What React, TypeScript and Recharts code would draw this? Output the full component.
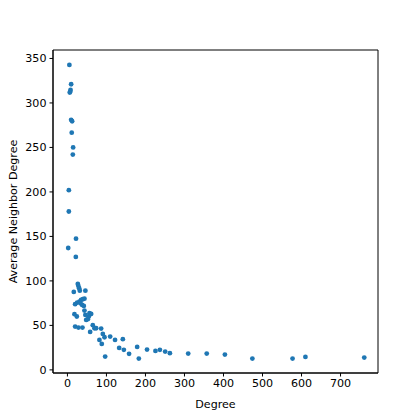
import React from 'react';
import { ScatterChart, Scatter, XAxis, YAxis, ReferenceArea } from 'recharts';

const degree = [
  5, 9.5, 8, 7, 6, 9.5, 12, 11, 14.6, 13.8,
  3.6, 3.6, 22, 2, 21.5,
  26.6, 28, 30, 31.7, 16.3, 46, 39.4, 43.6, 35, 30.8, 24.9, 19.7, 33.4, 37.7, 42,
  18, 24, 43.6, 46, 48, 52.3, 56.5, 60.8, 54.8,
  19.7, 28.2, 38.5, 65, 69.2, 73.6, 58.2, 86.4, 90.7, 95, 82, 88,
  109.5, 122, 142, 132.6, 144.6, 158, 96.7, 178.7, 183, 204, 225.6, 237, 250.5, 262.6,
  309.5, 357, 403.6, 474, 577, 610, 760.8,
];
const avgNeighborDegree = [
  342.7, 321, 314.6, 312.7, 311.6, 281, 279.4, 266.6, 250, 242,
  202, 178, 147.5, 137, 127,
  96.6, 94.4, 91.8, 89, 87.6, 89, 79.4, 80, 78.7, 76.8, 75.6, 73.8, 74.9, 73, 71.9,
  62.6, 60, 66.6, 61.8, 56.2, 57, 63.7, 62.9, 60,
  48.7, 47.5, 47.5, 50.2, 46.8, 46.8, 42.7, 46.4, 40.4, 36.7, 33.7, 29.2,
  37.4, 33.7, 34.5, 24.7, 22.5, 18, 15, 25.8, 12.7, 22.8, 21.3, 22.5, 20.6, 18.8,
  18.3, 18.3, 17.2, 12.7, 12.7, 14.6, 13.8,
];
const xTicks = [0, 100, 200, 300, 400, 500, 600, 700];
const yTicks = [0, 50, 100, 150, 200, 250, 300, 350];
const xDomain: [number, number] = [-37, 796];
const yDomain: [number, number] = [-3.5, 359.5];

const data = degree.map((d, i) => ({ x: d, y: avgNeighborDegree[i] }));

const font = { fontFamily: 'DejaVu Sans', fontSize: 11.1, fill: '#000' };

const Dot = (props: any) => {
  const { cx, cy } = props;
  return <circle cx={cx} cy={cy} r={2.4} fill="#1f77b4" />;
};

export default function App() {
  return (
    <div style={{ position: 'absolute', left: 0, top: 0, background: '#fff' }}>
      <ScatterChart width={420} height={420} margin={{ top: 50, right: 42, bottom: 0, left: 0 }}>
        <XAxis
          type="number"
          dataKey="x"
          domain={xDomain}
          ticks={xTicks}
          allowDataOverflow
          height={47}
          tickSize={3.5}
          tickMargin={3}
          tick={font}
          stroke="#000"
          axisLine={{ stroke: '#000', strokeWidth: 1 }}
          tickLine={{ stroke: '#000' }}
          label={{ value: 'Degree', position: 'insideBottom', offset: 12, style: { ...font, textAnchor: 'middle' } }}
        />
        <YAxis
          type="number"
          dataKey="y"
          domain={yDomain}
          ticks={yTicks}
          allowDataOverflow
          width={53}
          tickSize={3.5}
          tickMargin={3}
          tick={font}
          stroke="#000"
          axisLine={{ stroke: '#000', strokeWidth: 1 }}
          tickLine={{ stroke: '#000' }}
          label={{ value: 'Average Neighbor Degree', angle: -90, position: 'insideLeft', offset: 13, style: { ...font, textAnchor: 'middle' } }}
        />
        <ReferenceArea
          x1={xDomain[0]}
          x2={xDomain[1]}
          y1={yDomain[0]}
          y2={yDomain[1]}
          fill="none"
          fillOpacity={0}
          stroke="#000"
          strokeWidth={1}
          ifOverflow="visible"
        />
        <Scatter data={data} shape={<Dot />} isAnimationActive={false} />
      </ScatterChart>
    </div>
  );
}
